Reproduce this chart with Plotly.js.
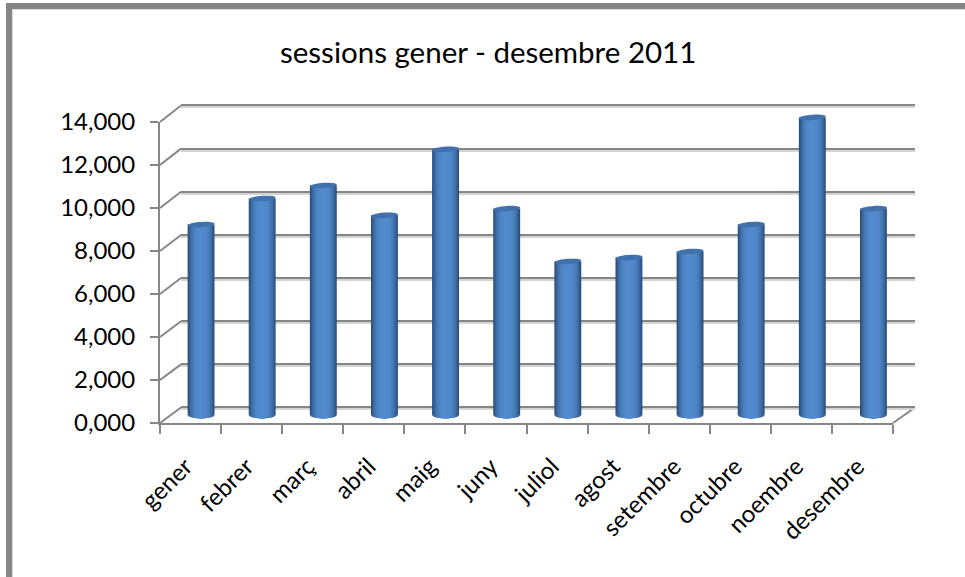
<!DOCTYPE html>
<html><head><meta charset="utf-8">
<script src="https://cdn.plot.ly/plotly-3.0.1.min.js"></script>
<style>html,body{margin:0;padding:0;background:#fff}</style></head>
<body><div id="chart" style="width:965px;height:577px"></div>
<script>
const months = ["gener","febrer","març","abril","maig","juny","juliol","agost","setembre","octubre","noembre","desembre"];
const sessions = [8850,10060,10660,9280,12340,9590,7140,7320,7600,8850,13820,9590];
const tickValues = [0,2000,4000,6000,8000,10000,12000,14000];
const tickLabels = ["0,000","2,000","4,000","6,000","8,000","10,000","12,000","14,000"];
const titleText = "sessions gener - desembre 2011";

const W=965,H=577, GRAY="#868686", FONT="Lato, Carlito, Calibri, sans-serif";
const dx=p=>[p[0]/W,p[1]/W], dy=p=>[1-p[1]/H,1-p[0]/H];
// [top px, bottom px] of each plane
const FRONT={x:[160,893],y:[122,423]}, BACK={x:[181,915],y:[105.5,407.5]}, MID={x:[170.5,904],y:[113.5,415.5]};
const unitsPerPx=14000/(MID.y[1]-MID.y[0]);
const catIdx=months.map((_,i)=>i);

// cylinder drawn as nested bars, shaded from dark edges to light centre
const N=14, barW=0.44, ellH=3*unitsPerPx;
const shade=u=>{const t=Math.pow(Math.abs(u),3);
  const a=[82,139,205], b=[42,78,122];
  return `rgb(${a.map((c,k)=>Math.round(c+(b[k]-c)*t)).join(",")})`;};
const traces=[];
traces.push({type:"scatter",x:months,y:sessions,xaxis:"x",yaxis:"y",mode:"none",hoverinfo:"skip",showlegend:false});
traces.push({type:"scatter",x:[0],y:[0],xaxis:"x2",yaxis:"y2",mode:"none",hoverinfo:"skip",showlegend:false});
traces.push({type:"scatter",x:[0],y:[0],xaxis:"x3",yaxis:"y3",mode:"none",hoverinfo:"skip",showlegend:false});
for(let s=0;s<N;s++){
  const u=1-s/N, drop=-ellH*Math.sqrt(1-u*u);
  traces.push({type:"bar",x:catIdx,y:sessions.map(v=>v-drop),base:drop,
    width:barW*u,xaxis:"x4",yaxis:"y4",hoverinfo:"skip",showlegend:false,
    marker:{color:shade(u),line:{width:0}}});
}
// top caps
const caps=sessions.map((v,i)=>{
  const pts=[];
  for(let a=0;a<36;a++){const t=a/36*2*Math.PI,c=Math.cos(t),sn=Math.sin(t);
    pts.push((a?"L":"M")+(i+c*barW/2)+","+(v+sn*ellH*0.9+c*0.9*unitsPerPx));}
  return {type:"path",xref:"x4",yref:"y4",path:pts.join(" ")+" Z",fillcolor:"#4071ad",line:{width:0},layer:"above"};
});
// side wall and floor diagonals
const diag=tickValues.map((v,i)=>{const f=i/7;
  const yF=FRONT.y[1]+(FRONT.y[0]-FRONT.y[1])*f,yB=BACK.y[1]+(BACK.y[0]-BACK.y[1])*f;
  return {x0:FRONT.x[0],x1:BACK.x[0],y0:yF,y1:yB};});
diag.push({x0:FRONT.x[1],x1:BACK.x[1],y0:FRONT.y[1],y1:BACK.y[1]});
const lines=diag.map(d=>({type:"line",xref:"paper",yref:"paper",x0:d.x0/W,x1:d.x1/W,y0:1-d.y0/H,y1:1-d.y1/H,
  line:{color:GRAY,width:2},layer:"below"}));
// outer frame
const rect=(x0,y0,x1,y1,c)=>({type:"rect",xref:"paper",yref:"paper",x0:x0/W,x1:x1/W,y0:1-y0/H,y1:1-y1/H,fillcolor:c,line:{width:0},layer:"below"});
const frame=[rect(6,3,965,9,GRAY),rect(6,3,12,577,GRAY),rect(12,9,965,10,"#dcdcdc"),rect(12,9,13,577,"#dcdcdc")];

// the back-wall axes reach a little past the range so the end gridlines are drawn
const pad=200, padPx=pad/unitsPerPx;
const backDomain=off=>dy([BACK.y[0]+off-padPx,BACK.y[1]+off+padPx]);
const hidden={showgrid:false,zeroline:false,showticklabels:false,ticks:"",showline:false};
const backY=(off,color)=>({domain:backDomain(off),range:[-pad,14000+pad],tickmode:"array",tickvals:tickValues,showgrid:true,gridcolor:color,gridwidth:2,zeroline:false,showticklabels:false,ticks:""});
const layout={
  width:W,height:H,margin:{l:0,r:0,t:0,b:0},paper_bgcolor:"#fff",plot_bgcolor:"rgba(0,0,0,0)",
  barmode:"overlay",showlegend:false,font:{family:FONT,color:"#000"},
  annotations:[{text:titleText,xref:"paper",yref:"paper",x:487.5/W,y:1-51/H,xanchor:"center",yanchor:"middle",showarrow:false,font:{size:29.5,family:FONT,color:"#000"}}],
  xaxis:{type:"category",categoryorder:"array",categoryarray:months,domain:dx(FRONT.x),anchor:"y",range:[-0.5,11.5],
    tickson:"boundaries",ticks:"outside",ticklen:9,tickwidth:2,tickcolor:GRAY,showline:true,linecolor:GRAY,linewidth:2,
    showgrid:false,zeroline:false,tickangle:-45,ticklabelshift:-5,ticklabelstandoff:18,tickfont:{size:24,family:FONT,color:"#000"}},
  yaxis:{domain:dy(FRONT.y),anchor:"x",range:[0,14000],tickmode:"array",tickvals:tickValues,ticktext:tickLabels,
    ticks:"outside",ticklen:8,tickwidth:2,tickcolor:GRAY,showline:true,linecolor:GRAY,linewidth:2,showgrid:false,zeroline:false,
    ticklabelstandoff:10,tickfont:{size:24,family:FONT,color:"#000"}},
  xaxis2:Object.assign({domain:dx(BACK.x),anchor:"y2",range:[0,1]},hidden),
  yaxis2:Object.assign(backY(2,"#d4d4d4"),{anchor:"x2"}),
  xaxis3:Object.assign({domain:dx(BACK.x),anchor:"y3",range:[0,1]},hidden),
  yaxis3:Object.assign(backY(0,GRAY),{anchor:"x3"}),
  xaxis4:Object.assign({domain:dx(MID.x),anchor:"y4",range:[-0.5,11.5]},hidden),
  yaxis4:Object.assign({domain:dy([MID.y[0],MID.y[1]+padPx]),anchor:"x4",range:[-pad,14000]},hidden),
  shapes:[...frame,...lines,...caps]
};
Plotly.newPlot("chart",traces,layout,{displayModeBar:false,staticPlot:true});
</script></body></html>
